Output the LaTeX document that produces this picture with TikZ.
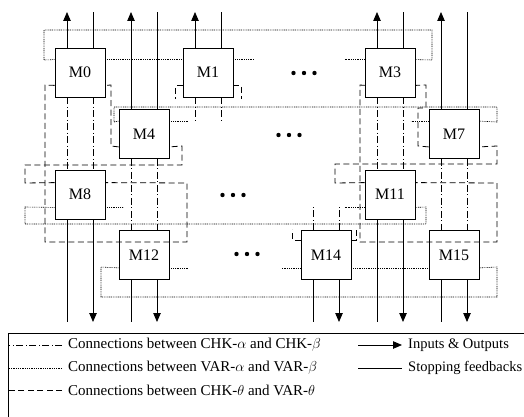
\documentclass[tikz,border=0pt]{standalone}
\usepackage{fontspec}
\setmainfont{Liberation Serif}
\usetikzlibrary{arrows.meta, positioning, calc}

\begin{document}
\begin{tikzpicture}[
    x=1pt, y=-1pt,
    module/.style={draw, line width=0.8pt, fill=white, minimum width=50pt, minimum height=49pt, inner sep=0pt, font=\fontsize{16}{18}\selectfont},
    io/.style={-{Triangle[length=9pt, width=7.5pt]}, line width=0.8pt},
    stopline/.style={line width=0.8pt},
    chkline/.style={line width=0.7pt, dash pattern=on 7pt off 2.5pt on 1pt off 2.5pt},
    varline/.style={line width=0.6pt, dash pattern=on 0.9pt off 0.9pt},
    thetaline/.style={line width=0.8pt, dash pattern=on 6pt off 3.5pt},
    legendtext/.style={anchor=west, inner sep=0pt, font=\fontsize{15}{17}\selectfont},
    legendside/.style={legendtext, font=\fontsize{14.5}{17}\selectfont}
]
    \useasboundingbox (0,0) rectangle (524,417);
    \clip (0,0) rectangle (524,417);

    % free ends of the inputs and outputs
    \coordinate (top) at (0,12);
    \coordinate (bot) at (0,322);

    % modules
    \node[module] (m0)  at (80,72.5)  {M0};
    \node[module] (m1)  at (208,72.5) {M1};
    \node[module] (m3)  at (390,72.5) {M3};
    \node[module] (m4)  at (144,134)  {M4};
    \node[module] (m7)  at (454,134)  {M7};
    \node[module] (m8)  at (80,194.5) {M8};
    \node[module] (m11) at (390,194.5) {M11};
    \node[module] (m12) at (144,255)  {M12};
    \node[module] (m14) at (326,255)  {M14};
    \node[module] (m15) at (454,255)  {M15};

    % skipped modules
    \foreach \cx/\cy in {304/73, 289/135, 233/195, 247/254}
        \foreach \dx in {-10.5,0,10.5}
            \fill (\cx+\dx,\cy) circle (2.2pt);

    % inputs and outputs, stopping feedbacks
    \foreach \m in {m0,m1,m3,m4,m7}{
        \draw[io] ([xshift=-13pt]\m.north) -- ([xshift=-13pt]\m.north |- top);
        \draw[stopline] ([xshift=13pt]\m.north) -- ([xshift=13pt]\m.north |- top);
    }
    \foreach \m in {m8,m11,m12,m14,m15}{
        \draw[stopline] ([xshift=-13pt]\m.south) -- ([xshift=-13pt]\m.south |- bot);
        \draw[io] ([xshift=13pt]\m.south) -- ([xshift=13pt]\m.south |- bot);
    }

    % CHK-alpha / CHK-beta
    \foreach \a/\b in {m0/m8, m4/m12, m3/m11, m7/m15}{
        \draw[chkline] ([xshift=-13pt]\a.south) -- ([xshift=-13pt]\b.north);
        \draw[chkline] ([xshift=13pt]\a.south) -- ([xshift=13pt]\b.north);
    }
    \foreach \s in {-13,13}{
        \draw[chkline] ([xshift=\s pt]m1.south) -- ++(0,23);
        \draw[chkline] ([xshift=\s pt]m14.north) -- ++(0,-26);
    }

    % VAR-alpha / VAR-beta
    \draw[varline] ([yshift=-12pt]m0.north west) -- (44,60) -- (44,30) -- (432,30) -- (432,60) -- ([yshift=-12pt]m3.north east);
    \draw[varline] ([yshift=-12pt]m0.north east) -- ([yshift=-12pt]m1.north west);
    \draw[varline] ([yshift=-12pt]m1.north east) -- ++(20,0);
    \draw[varline] ([yshift=-12pt]m3.north west) -- ++(-20,0);

    \draw[varline] ([yshift=-12pt]m4.north west) -- (114,122) -- (114,107) -- (497,107) -- (497,122) -- ([yshift=-12pt]m7.north east);
    \draw[varline] ([yshift=-12pt]m4.north east) -- ++(19,0);
    \draw[varline] ([yshift=-12pt]m7.north west) -- ++(-18,0);

    \draw[varline] ([yshift=12pt]m8.south west) -- (25,207) -- (25,224) -- (426,224) -- (426,207) -- ([yshift=12pt]m11.south east);
    \draw[varline] ([yshift=12pt]m8.south east) -- ++(18,0);
    \draw[varline] ([yshift=12pt]m11.south west) -- ++(-20,0);

    \draw[varline] ([yshift=12pt]m12.south west) -- (101,267) -- (101,297) -- (497,297) -- (497,267) -- ([yshift=12pt]m15.south east);
    \draw[varline] ([yshift=12pt]m12.south east) -- ++(19,0);
    \draw[varline] ([yshift=12pt]m14.south west) -- ++(-19,0);
    \draw[varline] ([yshift=12pt]m14.south east) -- ([yshift=12pt]m15.south west);

    % CHK-theta / VAR-theta
    \draw[thetaline] ([yshift=12pt]m0.south west) -- (45,85) -- (45,242) -- (187,242) -- (187,183) -- ([yshift=-13pt]m8.north east);
    \draw[thetaline] ([yshift=-13pt]m8.north west) -- (25,183) -- (25,165) -- (182,165) -- (182,146) -- ([yshift=12pt]m4.south east);
    \draw[thetaline] ([yshift=12pt]m4.south west) -- (111,146) -- (111,85) -- ([yshift=12pt]m0.south east);

    \draw[thetaline] ([yshift=12pt]m3.south west) -- (360,85) -- (360,242) -- (497,242) -- (497,183) -- ([yshift=-13pt]m11.north east);
    \draw[thetaline] ([yshift=-13pt]m11.north west) -- (335,183) -- (335,164) -- (497,164) -- (497,146) -- ([yshift=12pt]m7.south east);
    \draw[thetaline] ([yshift=12pt]m7.south west) -- (418,146) -- (418,108) -- (426,108) -- (426,85) -- ([yshift=12pt]m3.south east);

    \draw[thetaline] ([yshift=12pt]m1.south west) -- ++(-7,0) -- ++(0,14);
    \draw[thetaline] ([yshift=12pt]m1.south east) -- ++(8,0) -- ++(0,14);
    \draw[thetaline] ([yshift=-10pt]m14.north west) -- ++(-8,0) -- ++(0,-11);
    \draw[thetaline] ([yshift=-10pt]m14.north east) -- ++(5,0) -- ++(0,-11);

    % legend
    \draw[line width=0.8pt] (8,333) rectangle (540,430);
    \node[legendtext] (lchk) at (68,345) {Connections between CHK-$\alpha$ and CHK-$\beta$};
    \node[legendtext] (lvar) at (68,368) {Connections between VAR-$\alpha$ and VAR-$\beta$};
    \node[legendtext] (lthe) at (68,390) {Connections between CHK-$\theta$ and VAR-$\theta$};
    \node[legendside] (lio)  at (408,345) {Inputs \& Outputs};
    \node[legendside] (lstp) at (408,368) {Stopping feedbacks};
    \draw[chkline]   ([xshift=-6pt]lchk.west) -- ++(-54,0);
    \draw[varline]   ([xshift=-6pt]lvar.west) -- ++(-54,0);
    \draw[thetaline] ([xshift=-6pt]lthe.west) -- ++(-54,0);
    \draw[io]        ([xshift=-50pt]lio.west) -- ([xshift=-6pt]lio.west);
    \draw[stopline]  ([xshift=-50pt]lstp.west) -- ([xshift=-6pt]lstp.west);
\end{tikzpicture}
\end{document}
